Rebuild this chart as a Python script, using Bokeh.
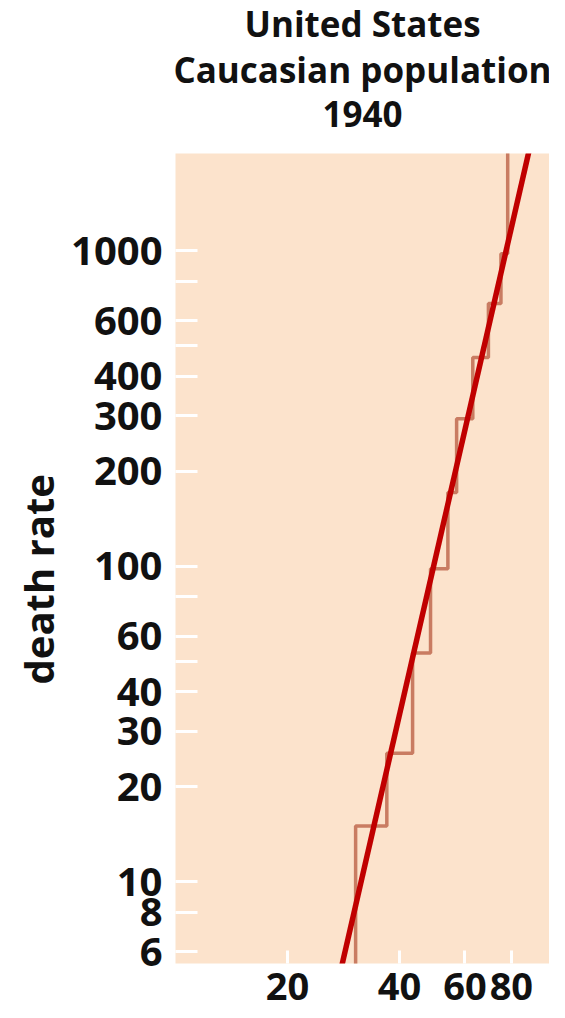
from bokeh.plotting import figure
from bokeh.models import Range1d, FixedTicker, Title
from bokeh.embed import file_html
from bokeh.resources import INLINE

# ---- data ----
title_lines = ["United States", "Caucasian population", "1940"]
y_label = "death rate"
x_ticks = [20, 40, 60, 80]
x_tick_labels = ["20", "40", "60", "80"]
y_ticks = [6, 8, 10, 20, 30, 40, 50, 60, 80, 100, 200, 300, 400, 500, 600, 800, 1000]
y_tick_labels = ["6", "8", "10", "20", "30", "40", "", "60", "", "100",
                 "200", "300", "400", "", "600", "", "1000"]

# observed death rate per age interval (step outline)
step_ages = [20, 30.5, 37, 43.4, 48.5, 54, 57, 63, 69.4, 75, 78.2]
step_rates = [3, 15, 25.5, 53, 98, 171, 293, 458, 679, 977, 3000]

# fitted straight line (log-log)
fit_ages = [26, 95]
fit_rates = [3.7, 2850]

FONT = "Open Sans"
INK = "#111111"

p = figure(width=549, height=1002,
           x_axis_type="log", y_axis_type="log",
           x_range=Range1d(10, 101.3), y_range=Range1d(5.5, 2030),
           output_backend="svg", toolbar_location=None,
           min_border_left=175, min_border_right=0,
           min_border_top=153, min_border_bottom=39)

# title: three centred lines; p.title is the outermost, added ones stack from the frame outward
p.title.text = title_lines[0]
t_last = Title(text=title_lines[2])
t_mid = Title(text=title_lines[1])
for t in [p.title, t_mid, t_last]:
    t.text_font = FONT
    t.text_font_size = "35px"
    t.text_font_style = "bold"
    t.text_color = INK
    t.align = "center"
p.title.standoff = -11
t_mid.standoff = 4
t_last.standoff = 9
gap = Title(text=" ", text_font_size="1px", standoff=19)
p.add_layout(gap, "above")
p.add_layout(t_last, "above")
p.add_layout(t_mid, "above")

p.background_fill_color = "#fce3cc"
p.border_fill_color = "white"
p.outline_line_color = None
p.xgrid.visible = False
p.ygrid.visible = False

# y axis
ya = p.yaxis[0]
ya.ticker = FixedTicker(ticks=y_ticks, minor_ticks=[])
ya.major_label_overrides = {t: l for t, l in zip(y_ticks, y_tick_labels)}
ya.axis_line_color = None
ya.major_tick_in = 22
ya.major_tick_out = 0
ya.major_tick_line_color = "white"
ya.major_tick_line_width = 3
ya.minor_tick_line_color = None
ya.major_label_standoff = 13
ya.major_label_text_font = FONT
ya.major_label_text_font_size = "40px"
ya.major_label_text_font_style = "bold"
ya.major_label_text_color = INK
ya.axis_label = y_label + "\u00a0" * 4
ya.axis_label_text_font = FONT
ya.axis_label_text_font_size = "40px"
ya.axis_label_text_font_style = "bold"
ya.axis_label_text_color = INK
ya.axis_label_standoff = 2

# x axis
xa = p.xaxis[0]
xa.ticker = FixedTicker(ticks=x_ticks, minor_ticks=[])
xa.major_label_overrides = {t: l for t, l in zip(x_ticks, x_tick_labels)}
xa.axis_line_color = None
xa.major_tick_in = 13
xa.major_tick_out = 0
xa.major_tick_line_color = "white"
xa.major_tick_line_width = 3
xa.minor_tick_line_color = None
xa.major_label_standoff = 9
xa.major_label_text_font = FONT
xa.major_label_text_font_size = "38px"
xa.major_label_text_font_style = "bold"
xa.major_label_text_color = INK

p.step(step_ages, step_rates, mode="after", line_color="#c97c62", line_width=3.5)
p.line(fit_ages, fit_rates, line_color="#c00000", line_width=5.5)

open("out.html", "w").write(file_html(p, INLINE))
